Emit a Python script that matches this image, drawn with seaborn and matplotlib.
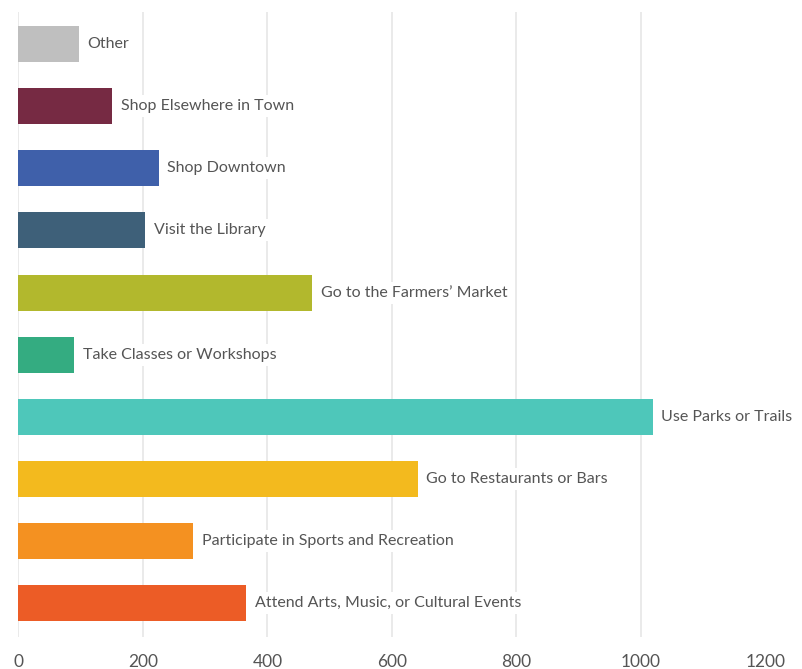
import matplotlib
matplotlib.use("Agg")
import matplotlib.pyplot as plt
import seaborn as sns
import pandas as pd

categories = [
    "Other",
    "Shop Elsewhere in Town",
    "Shop Downtown",
    "Visit the Library",
    "Go to the Farmers\u2019 Market",
    "Take Classes or Workshops",
    "Use Parks or Trails",
    "Go to Restaurants or Bars",
    "Participate in Sports and Recreation",
    "Attend Arts, Music, or Cultural Events",
]
counts = [98, 151, 226, 204, 472, 90, 1019, 642, 281, 366]
colors = [
    "#BFBFBF", "#762A43", "#3F60AA", "#3E6079", "#B2B82D",
    "#34AC81", "#4EC7BA", "#F3BA1E", "#F49121", "#EC5C26",
]
x_ticks = [0, 200, 400, 600, 800, 1000, 1200]

df = pd.DataFrame({"activity": categories, "count": counts})

sns.set_theme(style="white")
plt.rcParams["font.family"] = ["Lato", "DejaVu Sans"]

fig = plt.figure(figsize=(8.03, 6.69), dpi=100)
ax = fig.add_axes([18.3 / 803, 1 - 637 / 669, (765.5 - 18.3) / 803, (637 - 12) / 669])

sns.barplot(
    data=df, y="activity", x="count", hue="activity",
    palette=colors, orient="h", width=0.58, saturation=1,
    legend=False, ax=ax, zorder=2, linewidth=0, edgecolor="none",
)

for i, (name, val) in enumerate(zip(categories, counts)):
    ax.annotate(
        name, xy=(val, i), xytext=(6, 0), textcoords="offset points",
        ha="left", va="center", fontsize=11.5, color="#555555",
        annotation_clip=False, zorder=3,
        bbox=dict(boxstyle="square,pad=0.25", fc="white", ec="none"),
    )

ax.set_xlim(0, 1200)
ax.set_ylim(9.55, -0.52)
ax.set_xticks(x_ticks)
ax.set_xticklabels([str(t) for t in x_ticks])
ax.set_yticks([])
ax.set_xlabel("")
ax.set_ylabel("")
ax.xaxis.grid(True, color="#E6E6E6", linewidth=1.2, zorder=0)
ax.set_axisbelow(True)
for s in ax.spines.values():
    s.set_visible(False)
ax.tick_params(axis="x", length=0, pad=12, labelsize=12.5, labelcolor="#555555")

fig.savefig("out.png", dpi=100, facecolor="white")
